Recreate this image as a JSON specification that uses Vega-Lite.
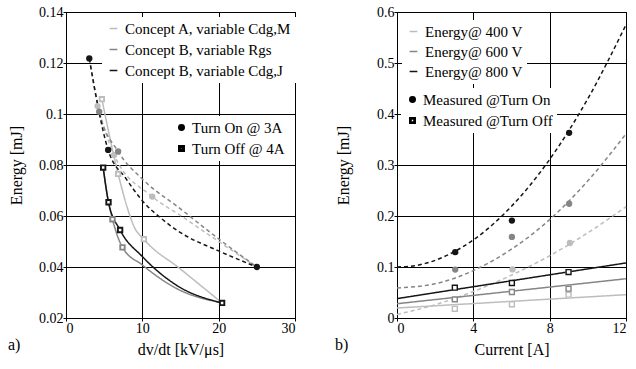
{
  "$schema": "https://vega.github.io/schema/vega-lite/v6.json",
  "padding": {"left": 7, "top": 4, "right": 0, "bottom": 0},
  "spacing": 37,
  "resolve": {"scale": {"color": "independent", "shape": "independent", "strokeDash": "independent"}, "legend": {"color": "independent", "shape": "independent"}},
  "config": {
    "font": "Liberation Serif",
    "view": {"stroke": "black", "strokeWidth": 1},
    "axis": {"domainColor": "black", "tickColor": "black", "gridColor": "black", "gridOpacity": 1, "gridWidth": 1,
      "labelColor": "black", "titleColor": "black", "labelFont": "Liberation Serif", "titleFont": "Liberation Serif",
      "labelFontSize": 14, "titleFontSize": 16, "titleFontWeight": "normal", "tickSize": 3, "labelPadding": 0},
    "legend": {"labelFont": "Liberation Serif", "labelFontSize": 15, "labelColor": "black", "labelLimit": 400}
  },
  "datasets": {
    "leftPts": [
      {"concept": "Concept A, variable Cdg,M", "mode": "Turn On @ 3A", "dvdt": 4.13, "energy": 0.1031},
      {"concept": "Concept A, variable Cdg,M", "mode": "Turn On @ 3A", "dvdt": 6.3, "energy": 0.0839},
      {"concept": "Concept A, variable Cdg,M", "mode": "Turn On @ 3A", "dvdt": 11.3, "energy": 0.0676},
      {"concept": "Concept A, variable Cdg,M", "mode": "Turn Off @ 4A", "dvdt": 4.7, "energy": 0.1058},
      {"concept": "Concept A, variable Cdg,M", "mode": "Turn Off @ 4A", "dvdt": 6.83, "energy": 0.0765},
      {"concept": "Concept A, variable Cdg,M", "mode": "Turn Off @ 4A", "dvdt": 10.2, "energy": 0.0509},
      {"concept": "Concept B, variable Rgs", "mode": "Turn On @ 3A", "dvdt": 4.35, "energy": 0.1009},
      {"concept": "Concept B, variable Rgs", "mode": "Turn On @ 3A", "dvdt": 6.83, "energy": 0.0853},
      {"concept": "Concept B, variable Rgs", "mode": "Turn Off @ 4A", "dvdt": 6.09, "energy": 0.0587},
      {"concept": "Concept B, variable Rgs", "mode": "Turn Off @ 4A", "dvdt": 7.4, "energy": 0.0477},
      {"concept": "Concept B, variable Cdg,J", "mode": "Turn On @ 3A", "dvdt": 3.05, "energy": 0.1218},
      {"concept": "Concept B, variable Cdg,J", "mode": "Turn On @ 3A", "dvdt": 5.52, "energy": 0.0859},
      {"concept": "Concept B, variable Cdg,J", "mode": "Turn On @ 3A", "dvdt": 25.0, "energy": 0.04},
      {"concept": "Concept B, variable Cdg,J", "mode": "Turn Off @ 4A", "dvdt": 4.87, "energy": 0.079},
      {"concept": "Concept B, variable Cdg,J", "mode": "Turn Off @ 4A", "dvdt": 5.57, "energy": 0.0654},
      {"concept": "Concept B, variable Cdg,J", "mode": "Turn Off @ 4A", "dvdt": 7.09, "energy": 0.0545},
      {"concept": "Concept B, variable Cdg,J", "mode": "Turn Off @ 4A", "dvdt": 20.45, "energy": 0.0259}
    ],
    "leftCurves": [
      {"concept": "Concept A, variable Cdg,M", "switching": "on", "dvdt": 4.13, "energy": 0.1031},
      {"concept": "Concept A, variable Cdg,M", "switching": "on", "dvdt": 6.3, "energy": 0.0839},
      {"concept": "Concept A, variable Cdg,M", "switching": "on", "dvdt": 11.3, "energy": 0.0676},
      {"concept": "Concept A, variable Cdg,M", "switching": "on", "dvdt": 15, "energy": 0.0602},
      {"concept": "Concept A, variable Cdg,M", "switching": "on", "dvdt": 20, "energy": 0.05},
      {"concept": "Concept A, variable Cdg,M", "switching": "on", "dvdt": 25, "energy": 0.04},
      {"concept": "Concept A, variable Cdg,M", "switching": "off", "dvdt": 4.7, "energy": 0.1058},
      {"concept": "Concept A, variable Cdg,M", "switching": "off", "dvdt": 6.83, "energy": 0.0765},
      {"concept": "Concept A, variable Cdg,M", "switching": "off", "dvdt": 8.27, "energy": 0.061},
      {"concept": "Concept A, variable Cdg,M", "switching": "off", "dvdt": 8.92, "energy": 0.0558},
      {"concept": "Concept A, variable Cdg,M", "switching": "off", "dvdt": 10.2, "energy": 0.0509},
      {"concept": "Concept A, variable Cdg,M", "switching": "off", "dvdt": 15, "energy": 0.0392},
      {"concept": "Concept A, variable Cdg,M", "switching": "off", "dvdt": 20.45, "energy": 0.0259},
      {"concept": "Concept B, variable Rgs", "switching": "on", "dvdt": 3.05, "energy": 0.1218},
      {"concept": "Concept B, variable Rgs", "switching": "on", "dvdt": 4.35, "energy": 0.1009},
      {"concept": "Concept B, variable Rgs", "switching": "on", "dvdt": 6.83, "energy": 0.0853},
      {"concept": "Concept B, variable Rgs", "switching": "on", "dvdt": 10, "energy": 0.0745},
      {"concept": "Concept B, variable Rgs", "switching": "on", "dvdt": 15, "energy": 0.0628},
      {"concept": "Concept B, variable Rgs", "switching": "on", "dvdt": 20, "energy": 0.051},
      {"concept": "Concept B, variable Rgs", "switching": "on", "dvdt": 25, "energy": 0.04},
      {"concept": "Concept B, variable Rgs", "switching": "off", "dvdt": 4.87, "energy": 0.079},
      {"concept": "Concept B, variable Rgs", "switching": "off", "dvdt": 5.57, "energy": 0.0654},
      {"concept": "Concept B, variable Rgs", "switching": "off", "dvdt": 6.09, "energy": 0.0587},
      {"concept": "Concept B, variable Rgs", "switching": "off", "dvdt": 7.4, "energy": 0.0477},
      {"concept": "Concept B, variable Rgs", "switching": "off", "dvdt": 10, "energy": 0.0408},
      {"concept": "Concept B, variable Rgs", "switching": "off", "dvdt": 14.4, "energy": 0.0317},
      {"concept": "Concept B, variable Rgs", "switching": "off", "dvdt": 20.45, "energy": 0.0259},
      {"concept": "Concept B, variable Cdg,J", "switching": "on", "dvdt": 3.05, "energy": 0.1218},
      {"concept": "Concept B, variable Cdg,J", "switching": "on", "dvdt": 5.52, "energy": 0.0859},
      {"concept": "Concept B, variable Cdg,J", "switching": "on", "dvdt": 7.83, "energy": 0.0748},
      {"concept": "Concept B, variable Cdg,J", "switching": "on", "dvdt": 10, "energy": 0.066},
      {"concept": "Concept B, variable Cdg,J", "switching": "on", "dvdt": 12.5, "energy": 0.059},
      {"concept": "Concept B, variable Cdg,J", "switching": "on", "dvdt": 15, "energy": 0.0535},
      {"concept": "Concept B, variable Cdg,J", "switching": "on", "dvdt": 20, "energy": 0.0463},
      {"concept": "Concept B, variable Cdg,J", "switching": "on", "dvdt": 25, "energy": 0.04},
      {"concept": "Concept B, variable Cdg,J", "switching": "off", "dvdt": 4.87, "energy": 0.079},
      {"concept": "Concept B, variable Cdg,J", "switching": "off", "dvdt": 5.57, "energy": 0.0654},
      {"concept": "Concept B, variable Cdg,J", "switching": "off", "dvdt": 7.09, "energy": 0.0545},
      {"concept": "Concept B, variable Cdg,J", "switching": "off", "dvdt": 10, "energy": 0.0441},
      {"concept": "Concept B, variable Cdg,J", "switching": "off", "dvdt": 14.4, "energy": 0.033},
      {"concept": "Concept B, variable Cdg,J", "switching": "off", "dvdt": 20.45, "energy": 0.0259}
    ],
    "rightPts": [
      {"voltage": "Energy@ 400 V", "mode": "Measured @Turn On", "current": 6.05, "energy": 0.0953},
      {"voltage": "Energy@ 400 V", "mode": "Measured @Turn On", "current": 9.06, "energy": 0.147},
      {"voltage": "Energy@ 400 V", "mode": "Measured @Turn Off", "current": 3.03, "energy": 0.018},
      {"voltage": "Energy@ 400 V", "mode": "Measured @Turn Off", "current": 6.02, "energy": 0.027},
      {"voltage": "Energy@ 400 V", "mode": "Measured @Turn Off", "current": 8.99, "energy": 0.0457},
      {"voltage": "Energy@ 600 V", "mode": "Measured @Turn On", "current": 3.05, "energy": 0.095},
      {"voltage": "Energy@ 600 V", "mode": "Measured @Turn On", "current": 6.02, "energy": 0.159},
      {"voltage": "Energy@ 600 V", "mode": "Measured @Turn On", "current": 9.02, "energy": 0.224},
      {"voltage": "Energy@ 600 V", "mode": "Measured @Turn Off", "current": 3.03, "energy": 0.0365},
      {"voltage": "Energy@ 600 V", "mode": "Measured @Turn Off", "current": 6.02, "energy": 0.051},
      {"voltage": "Energy@ 600 V", "mode": "Measured @Turn Off", "current": 8.99, "energy": 0.0575},
      {"voltage": "Energy@ 800 V", "mode": "Measured @Turn On", "current": 3.05, "energy": 0.129},
      {"voltage": "Energy@ 800 V", "mode": "Measured @Turn On", "current": 6.02, "energy": 0.191},
      {"voltage": "Energy@ 800 V", "mode": "Measured @Turn On", "current": 9.02, "energy": 0.363},
      {"voltage": "Energy@ 800 V", "mode": "Measured @Turn Off", "current": 3.03, "energy": 0.0594},
      {"voltage": "Energy@ 800 V", "mode": "Measured @Turn Off", "current": 6.02, "energy": 0.0686},
      {"voltage": "Energy@ 800 V", "mode": "Measured @Turn Off", "current": 8.99, "energy": 0.09}
    ],
    "rightCurves": [
      {"voltage": "Energy@ 400 V", "switching": "on", "current": 0, "energy": 0.007},
      {"voltage": "Energy@ 400 V", "switching": "on", "current": 2, "energy": 0.026},
      {"voltage": "Energy@ 400 V", "switching": "on", "current": 4, "energy": 0.052},
      {"voltage": "Energy@ 400 V", "switching": "on", "current": 6, "energy": 0.084},
      {"voltage": "Energy@ 400 V", "switching": "on", "current": 8, "energy": 0.122},
      {"voltage": "Energy@ 400 V", "switching": "on", "current": 10, "energy": 0.167},
      {"voltage": "Energy@ 400 V", "switching": "on", "current": 12, "energy": 0.218},
      {"voltage": "Energy@ 600 V", "switching": "on", "current": 0, "energy": 0.059},
      {"voltage": "Energy@ 600 V", "switching": "on", "current": 2, "energy": 0.067},
      {"voltage": "Energy@ 600 V", "switching": "on", "current": 4, "energy": 0.093},
      {"voltage": "Energy@ 600 V", "switching": "on", "current": 6, "energy": 0.135},
      {"voltage": "Energy@ 600 V", "switching": "on", "current": 8, "energy": 0.193},
      {"voltage": "Energy@ 600 V", "switching": "on", "current": 10, "energy": 0.269},
      {"voltage": "Energy@ 600 V", "switching": "on", "current": 12, "energy": 0.361},
      {"voltage": "Energy@ 800 V", "switching": "on", "current": 0, "energy": 0.1},
      {"voltage": "Energy@ 800 V", "switching": "on", "current": 1, "energy": 0.103},
      {"voltage": "Energy@ 800 V", "switching": "on", "current": 2, "energy": 0.113},
      {"voltage": "Energy@ 800 V", "switching": "on", "current": 3, "energy": 0.13},
      {"voltage": "Energy@ 800 V", "switching": "on", "current": 4, "energy": 0.153},
      {"voltage": "Energy@ 800 V", "switching": "on", "current": 6, "energy": 0.219},
      {"voltage": "Energy@ 800 V", "switching": "on", "current": 8, "energy": 0.311},
      {"voltage": "Energy@ 800 V", "switching": "on", "current": 10, "energy": 0.43},
      {"voltage": "Energy@ 800 V", "switching": "on", "current": 12, "energy": 0.575},
      {"voltage": "Energy@ 400 V", "switching": "off", "current": 0, "energy": 0.0196},
      {"voltage": "Energy@ 400 V", "switching": "off", "current": 12, "energy": 0.0457},
      {"voltage": "Energy@ 600 V", "switching": "off", "current": 0, "energy": 0.028},
      {"voltage": "Energy@ 600 V", "switching": "off", "current": 12, "energy": 0.077},
      {"voltage": "Energy@ 800 V", "switching": "off", "current": 0, "energy": 0.038},
      {"voltage": "Energy@ 800 V", "switching": "off", "current": 12, "energy": 0.108}
    ]
  },
  "hconcat": [
    {
      "width": 229, "height": 306,
      "title": {"text": "a)", "orient": "bottom", "anchor": "start", "offset": -20, "fontSize": 16, "fontWeight": "normal", "font": "Liberation Serif", "color": "black"},
      "layer": [
        {
          "data": {"name": "leftCurves"},
          "mark": {"type": "line", "interpolate": "monotone", "strokeWidth": 1.5},
          "encoding": {
            "x": {"field": "dvdt", "type": "quantitative", "scale": {"domain": [0, 30], "nice": false},
              "axis": {"title": "dv/dt [kV/μs]", "values": [0, 10, 20, 30], "titlePadding": 6, "labelFont": "Liberation Serif"}},
            "y": {"field": "energy", "type": "quantitative", "scale": {"domain": [0.02, 0.14], "nice": false, "zero": false},
              "axis": {"title": "Energy [mJ]", "values": [0.02, 0.04, 0.06, 0.08, 0.1, 0.12, 0.14], "format": "~g", "titleX": -42, "labelFont": "Liberation Serif"}},
            "color": {"field": "concept", "type": "nominal",
              "scale": {"domain": ["Concept A, variable Cdg,M", "Concept B, variable Rgs", "Concept B, variable Cdg,J"], "range": ["#bdbdbd", "#858585", "#151515"]},
              "legend": {"title": null, "orient": "none", "legendX": 36, "legendY": 5, "symbolType": "stroke", "symbolStrokeWidth": 1.5, "symbolSize": 60, "symbolDash": [1, 0], "fillColor": "white", "padding": 4, "rowPadding": 5, "labelOffset": 4,
                "encode": {"symbols": {"update": {"strokeDash": {"value": [1, 0]}}}}}},
            "strokeDash": {"field": "switching", "type": "nominal", "scale": {"domain": ["on", "off"], "range": [[4, 3], [1, 0]]}, "legend": null}
          }
        },
        {
          "data": {"name": "leftPts"},
          "transform": [{"filter": "datum.mode === 'Turn Off @ 4A'"}],
          "mark": {"type": "point", "filled": true, "shape": "square", "color": "white", "size": 30, "opacity": 1},
          "encoding": {
            "x": {"field": "dvdt", "type": "quantitative"},
            "y": {"field": "energy", "type": "quantitative"}
          }
        },
        {
          "data": {"name": "leftPts"},
          "mark": {"type": "point", "filled": true, "opacity": 1},
          "encoding": {
            "x": {"field": "dvdt", "type": "quantitative"},
            "y": {"field": "energy", "type": "quantitative"},
            "color": {"field": "concept", "type": "nominal",
              "legend": {"title": null, "orient": "none", "legendX": 36, "legendY": 5, "symbolType": "stroke", "symbolStrokeWidth": 1.5, "symbolSize": 60, "symbolDash": [1, 0], "fillColor": "white", "padding": 4, "rowPadding": 5, "labelOffset": 4,
                "encode": {"symbols": {"update": {"strokeDash": {"value": [1, 0]}}}}}},
            "shape": {"field": "mode", "type": "nominal", "scale": {"domain": ["Turn On @ 3A", "Turn Off @ 4A"], "range": ["circle", "M-1,-1L1,-1L1,1L-1,1Z M-0.4,-0.4L-0.4,0.4L0.4,0.4L0.4,-0.4Z"]},
              "legend": {"title": null, "orient": "none", "legendX": 104, "legendY": 104, "fillColor": "white", "padding": 4, "rowPadding": 5, "symbolSize": 30, "labelOffset": 3, "symbolFillColor": "black", "symbolStrokeColor": "black"}},
            "size": {"value": 40}
          }
        }
      ]
    },
    {
      "width": 229, "height": 306,
      "title": {"text": "b)", "orient": "bottom", "anchor": "start", "offset": -20, "fontSize": 16, "fontWeight": "normal", "font": "Liberation Serif", "color": "black"},
      "layer": [
        {
          "data": {"name": "rightCurves"},
          "mark": {"type": "line", "interpolate": "monotone", "strokeWidth": 1.5},
          "encoding": {
            "x": {"field": "current", "type": "quantitative", "scale": {"domain": [0, 12], "nice": false},
              "axis": {"title": "Current [A]", "values": [0, 4, 8, 12], "titlePadding": 6, "labelFont": "Liberation Serif"}},
            "y": {"field": "energy", "type": "quantitative", "scale": {"domain": [0, 0.6], "nice": false},
              "axis": {"title": "Energy [mJ]", "values": [0, 0.1, 0.2, 0.3, 0.4, 0.5, 0.6], "format": "~g", "titleX": -46, "labelFont": "Liberation Serif"}},
            "color": {"field": "voltage", "type": "nominal",
              "scale": {"domain": ["Energy@ 400 V", "Energy@ 600 V", "Energy@ 800 V"], "range": ["#bdbdbd", "#858585", "#151515"]},
              "legend": {"title": null, "orient": "none", "legendX": 5, "legendY": 8, "symbolType": "stroke", "symbolStrokeWidth": 1.5, "symbolSize": 60, "symbolDash": [1, 0], "fillColor": "white", "padding": 4, "rowPadding": 4, "labelOffset": 4,
                "encode": {"symbols": {"update": {"strokeDash": {"value": [1, 0]}}}}}},
            "strokeDash": {"field": "switching", "type": "nominal", "scale": {"domain": ["on", "off"], "range": [[4, 3], [1, 0]]}, "legend": null}
          }
        },
        {
          "data": {"name": "rightPts"},
          "transform": [{"filter": "datum.mode === 'Measured @Turn Off'"}],
          "mark": {"type": "point", "filled": true, "shape": "square", "color": "white", "size": 36, "opacity": 1},
          "encoding": {
            "x": {"field": "current", "type": "quantitative"},
            "y": {"field": "energy", "type": "quantitative"}
          }
        },
        {
          "data": {"name": "rightPts"},
          "mark": {"type": "point", "filled": true, "opacity": 1},
          "encoding": {
            "x": {"field": "current", "type": "quantitative"},
            "y": {"field": "energy", "type": "quantitative"},
            "color": {"field": "voltage", "type": "nominal",
              "legend": {"title": null, "orient": "none", "legendX": 5, "legendY": 8, "symbolType": "stroke", "symbolStrokeWidth": 1.5, "symbolSize": 60, "symbolDash": [1, 0], "fillColor": "white", "padding": 4, "rowPadding": 4, "labelOffset": 4,
                "encode": {"symbols": {"update": {"strokeDash": {"value": [1, 0]}}}}}},
            "shape": {"field": "mode", "type": "nominal", "scale": {"domain": ["Measured @Turn On", "Measured @Turn Off"], "range": ["circle", "M-1,-1L1,-1L1,1L-1,1Z M-0.55,-0.55L-0.55,0.55L0.55,0.55L0.55,-0.55Z"]},
              "legend": {"title": null, "orient": "none", "legendX": 4, "legendY": 76, "fillColor": "white", "padding": 4, "rowPadding": 5, "symbolSize": 30, "labelOffset": 3, "symbolFillColor": "black", "symbolStrokeColor": "black"}},
            "size": {"value": 40}
          }
        }
      ]
    }
  ]
}
